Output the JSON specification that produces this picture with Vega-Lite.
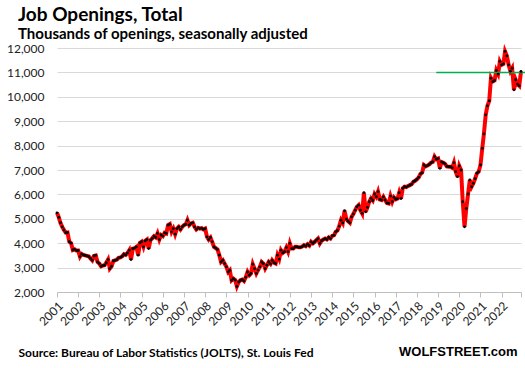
{
"$schema": "https://vega.github.io/schema/vega-lite/v6.json",
"width": 464, "height": 244,
"autosize": "none",
"padding": {"left": 57, "top": 48, "right": 4, "bottom": 76},
"background": "white",
"config": {"view": {"stroke": null}, "font": "Lato"},
"title": {"text": "Job Openings, Total", "subtitle": "Thousands of openings, seasonally adjusted", "anchor": "start", "frame": "group", "dx": -39, "offset": 0, "font": "Lato", "fontSize": 19, "fontWeight": "bold", "color": "#000", "subtitleFont": "Lato", "subtitleFontSize": 15, "subtitleFontWeight": "bold", "subtitleColor": "#000", "subtitlePadding": 2},
"datasets": {
"level": [{"d": "2018-12-01", "d2": "2023-02-15", "v": 11000}],
"jolts": [
{"d":"2001-01-01","v":5245},{"d":"2001-02-01","v":5060},{"d":"2001-03-01","v":4840},{"d":"2001-04-01","v":4670},{"d":"2001-05-01","v":4540},{"d":"2001-06-01","v":4430},{"d":"2001-07-01","v":4440},{"d":"2001-08-01","v":4060},{"d":"2001-09-01","v":4000},{"d":"2001-10-01","v":3720},{"d":"2001-11-01","v":3750},{"d":"2001-12-01","v":3700},
{"d":"2002-01-01","v":3700},{"d":"2002-02-01","v":3450},{"d":"2002-03-01","v":3560},{"d":"2002-04-01","v":3520},{"d":"2002-05-01","v":3500},{"d":"2002-06-01","v":3480},{"d":"2002-07-01","v":3460},{"d":"2002-08-01","v":3380},{"d":"2002-09-01","v":3300},{"d":"2002-10-01","v":3480},{"d":"2002-11-01","v":3500},{"d":"2002-12-01","v":3230},
{"d":"2003-01-01","v":3165},{"d":"2003-02-01","v":3055},{"d":"2003-03-01","v":3080},{"d":"2003-04-01","v":3095},{"d":"2003-05-01","v":3200},{"d":"2003-06-01","v":3330},{"d":"2003-07-01","v":2960},{"d":"2003-08-01","v":3055},{"d":"2003-09-01","v":3275},{"d":"2003-10-01","v":3300},{"d":"2003-11-01","v":3330},{"d":"2003-12-01","v":3400},
{"d":"2004-01-01","v":3420},{"d":"2004-02-01","v":3465},{"d":"2004-03-01","v":3550},{"d":"2004-04-01","v":3520},{"d":"2004-05-01","v":3600},{"d":"2004-06-01","v":3715},{"d":"2004-07-01","v":3330},{"d":"2004-08-01","v":3780},{"d":"2004-09-01","v":3800},{"d":"2004-10-01","v":3850},{"d":"2004-11-01","v":3510},{"d":"2004-12-01","v":4010},
{"d":"2005-01-01","v":4060},{"d":"2005-02-01","v":3850},{"d":"2005-03-01","v":4095},{"d":"2005-04-01","v":4150},{"d":"2005-05-01","v":3780},{"d":"2005-06-01","v":4125},{"d":"2005-07-01","v":4200},{"d":"2005-08-01","v":4290},{"d":"2005-09-01","v":4235},{"d":"2005-10-01","v":4400},{"d":"2005-11-01","v":4150},{"d":"2005-12-01","v":4335},
{"d":"2006-01-01","v":4290},{"d":"2006-02-01","v":4425},{"d":"2006-03-01","v":4400},{"d":"2006-04-01","v":4740},{"d":"2006-05-01","v":4780},{"d":"2006-06-01","v":4465},{"d":"2006-07-01","v":4600},{"d":"2006-08-01","v":4370},{"d":"2006-09-01","v":4600},{"d":"2006-10-01","v":4670},{"d":"2006-11-01","v":4565},{"d":"2006-12-01","v":4670},
{"d":"2007-01-01","v":4740},{"d":"2007-02-01","v":4780},{"d":"2007-03-01","v":4945},{"d":"2007-04-01","v":4740},{"d":"2007-05-01","v":4810},{"d":"2007-06-01","v":4835},{"d":"2007-07-01","v":4670},{"d":"2007-08-01","v":4565},{"d":"2007-09-01","v":4630},{"d":"2007-10-01","v":4600},{"d":"2007-11-01","v":4620},{"d":"2007-12-01","v":4565},
{"d":"2008-01-01","v":4600},{"d":"2008-02-01","v":4260},{"d":"2008-03-01","v":4150},{"d":"2008-04-01","v":4235},{"d":"2008-05-01","v":4055},{"d":"2008-06-01","v":3850},{"d":"2008-07-01","v":3800},{"d":"2008-08-01","v":3740},{"d":"2008-09-01","v":3510},{"d":"2008-10-01","v":3230},{"d":"2008-11-01","v":3300},{"d":"2008-12-01","v":3165},
{"d":"2009-01-01","v":3030},{"d":"2009-02-01","v":2820},{"d":"2009-03-01","v":2890},{"d":"2009-04-01","v":2480},{"d":"2009-05-01","v":2545},{"d":"2009-06-01","v":2490},{"d":"2009-07-01","v":2230},{"d":"2009-08-01","v":2410},{"d":"2009-09-01","v":2480},{"d":"2009-10-01","v":2510},{"d":"2009-11-01","v":2450},{"d":"2009-12-01","v":2600},
{"d":"2010-01-01","v":2820},{"d":"2010-02-01","v":2690},{"d":"2010-03-01","v":2760},{"d":"2010-04-01","v":3140},{"d":"2010-05-01","v":2960},{"d":"2010-06-01","v":2760},{"d":"2010-07-01","v":2900},{"d":"2010-08-01","v":3030},{"d":"2010-09-01","v":3230},{"d":"2010-10-01","v":3165},{"d":"2010-11-01","v":2960},{"d":"2010-12-01","v":3100},
{"d":"2011-01-01","v":3230},{"d":"2011-02-01","v":3150},{"d":"2011-03-01","v":3300},{"d":"2011-04-01","v":3200},{"d":"2011-05-01","v":3165},{"d":"2011-06-01","v":3510},{"d":"2011-07-01","v":3350},{"d":"2011-08-01","v":3715},{"d":"2011-09-01","v":3600},{"d":"2011-10-01","v":3650},{"d":"2011-11-01","v":3820},{"d":"2011-12-01","v":3650},
{"d":"2012-01-01","v":3990},{"d":"2012-02-01","v":3780},{"d":"2012-03-01","v":3780},{"d":"2012-04-01","v":3850},{"d":"2012-05-01","v":3850},{"d":"2012-06-01","v":3830},{"d":"2012-07-01","v":3830},{"d":"2012-08-01","v":3860},{"d":"2012-09-01","v":3920},{"d":"2012-10-01","v":3880},{"d":"2012-11-01","v":3960},{"d":"2012-12-01","v":3900},
{"d":"2013-01-01","v":4055},{"d":"2013-02-01","v":3990},{"d":"2013-03-01","v":4050},{"d":"2013-04-01","v":4125},{"d":"2013-05-01","v":4190},{"d":"2013-06-01","v":3990},{"d":"2013-07-01","v":4100},{"d":"2013-08-01","v":4150},{"d":"2013-09-01","v":4190},{"d":"2013-10-01","v":4150},{"d":"2013-11-01","v":4235},{"d":"2013-12-01","v":4190},
{"d":"2014-01-01","v":4300},{"d":"2014-02-01","v":4330},{"d":"2014-03-01","v":4465},{"d":"2014-04-01","v":4520},{"d":"2014-05-01","v":4700},{"d":"2014-06-01","v":4945},{"d":"2014-07-01","v":4830},{"d":"2014-08-01","v":5330},{"d":"2014-09-01","v":4990},{"d":"2014-10-01","v":4900},{"d":"2014-11-01","v":4835},{"d":"2014-12-01","v":5080},
{"d":"2015-01-01","v":5200},{"d":"2015-02-01","v":5355},{"d":"2015-03-01","v":5490},{"d":"2015-04-01","v":5560},{"d":"2015-05-01","v":5355},{"d":"2015-06-01","v":5220},{"d":"2015-07-01","v":6070},{"d":"2015-08-01","v":5285},{"d":"2015-09-01","v":5465},{"d":"2015-10-01","v":5700},{"d":"2015-11-01","v":5840},{"d":"2015-12-01","v":5750},
{"d":"2016-01-01","v":6015},{"d":"2016-02-01","v":5905},{"d":"2016-03-01","v":6110},{"d":"2016-04-01","v":5795},{"d":"2016-05-01","v":5770},{"d":"2016-06-01","v":5900},{"d":"2016-07-01","v":5770},{"d":"2016-08-01","v":5650},{"d":"2016-09-01","v":5630},{"d":"2016-10-01","v":5930},{"d":"2016-11-01","v":5700},{"d":"2016-12-01","v":5880},
{"d":"2017-01-01","v":5800},{"d":"2017-02-01","v":5830},{"d":"2017-03-01","v":6070},{"d":"2017-04-01","v":5830},{"d":"2017-05-01","v":6250},{"d":"2017-06-01","v":6315},{"d":"2017-07-01","v":6300},{"d":"2017-08-01","v":6340},{"d":"2017-09-01","v":6380},{"d":"2017-10-01","v":6420},{"d":"2017-11-01","v":6520},{"d":"2017-12-01","v":6560},
{"d":"2018-01-01","v":6620},{"d":"2018-02-01","v":6700},{"d":"2018-03-01","v":6835},{"d":"2018-04-01","v":6890},{"d":"2018-05-01","v":7205},{"d":"2018-06-01","v":7150},{"d":"2018-07-01","v":7180},{"d":"2018-08-01","v":7230},{"d":"2018-09-01","v":7300},{"d":"2018-10-01","v":7330},{"d":"2018-11-01","v":7550},{"d":"2018-12-01","v":7440},
{"d":"2019-01-01","v":7470},{"d":"2019-02-01","v":7070},{"d":"2019-03-01","v":7330},{"d":"2019-04-01","v":7300},{"d":"2019-05-01","v":7250},{"d":"2019-06-01","v":7150},{"d":"2019-07-01","v":7135},{"d":"2019-08-01","v":7135},{"d":"2019-09-01","v":7090},{"d":"2019-10-01","v":7300},{"d":"2019-11-01","v":6930},{"d":"2019-12-01","v":6725},
{"d":"2020-01-01","v":7165},{"d":"2020-02-01","v":7000},{"d":"2020-03-01","v":5700},{"d":"2020-04-01","v":4670},{"d":"2020-05-01","v":5425},{"d":"2020-06-01","v":6015},{"d":"2020-07-01","v":6590},{"d":"2020-08-01","v":6315},{"d":"2020-09-01","v":6455},{"d":"2020-10-01","v":6650},{"d":"2020-11-01","v":6865},{"d":"2020-12-01","v":6930},
{"d":"2021-01-01","v":7205},{"d":"2021-02-01","v":7890},{"d":"2021-03-01","v":8480},{"d":"2021-04-01","v":9260},{"d":"2021-05-01","v":9630},{"d":"2021-06-01","v":9835},{"d":"2021-07-01","v":10765},{"d":"2021-08-01","v":10625},{"d":"2021-09-01","v":10670},{"d":"2021-10-01","v":11080},{"d":"2021-11-01","v":10930},{"d":"2021-12-01","v":11450},
{"d":"2022-01-01","v":11310},{"d":"2022-02-01","v":11350},{"d":"2022-03-01","v":11860},{"d":"2022-04-01","v":11680},{"d":"2022-05-01","v":11310},{"d":"2022-06-01","v":11050},{"d":"2022-07-01","v":11175},{"d":"2022-08-01","v":10285},{"d":"2022-09-01","v":10700},{"d":"2022-10-01","v":10520},{"d":"2022-11-01","v":10450},{"d":"2022-12-01","v":11040}
]},
"encoding": {
  "x": {"field": "d", "type": "temporal",
   "scale": {"type": "utc", "nice": false, "domain": [{"year": 2001, "month": 1, "date": 1, "utc": true}, {"year": 2022, "month": 12, "date": 1, "utc": true}]},
   "axis": {"values": [
     {"year": 2001, "month": 1, "date": 1, "utc": true},{"year": 2002, "month": 1, "date": 1, "utc": true},{"year": 2003, "month": 1, "date": 1, "utc": true},{"year": 2004, "month": 1, "date": 1, "utc": true},{"year": 2005, "month": 1, "date": 1, "utc": true},{"year": 2006, "month": 1, "date": 1, "utc": true},{"year": 2007, "month": 1, "date": 1, "utc": true},{"year": 2008, "month": 1, "date": 1, "utc": true},{"year": 2009, "month": 1, "date": 1, "utc": true},{"year": 2010, "month": 1, "date": 1, "utc": true},{"year": 2011, "month": 1, "date": 1, "utc": true},{"year": 2012, "month": 1, "date": 1, "utc": true},{"year": 2013, "month": 1, "date": 1, "utc": true},{"year": 2014, "month": 1, "date": 1, "utc": true},{"year": 2015, "month": 1, "date": 1, "utc": true},{"year": 2016, "month": 1, "date": 1, "utc": true},{"year": 2017, "month": 1, "date": 1, "utc": true},{"year": 2018, "month": 1, "date": 1, "utc": true},{"year": 2019, "month": 1, "date": 1, "utc": true},{"year": 2020, "month": 1, "date": 1, "utc": true},{"year": 2021, "month": 1, "date": 1, "utc": true},{"year": 2022, "month": 1, "date": 1, "utc": true},{"year": 2022, "month": 12, "date": 1, "utc": true}],
    "labelExpr": "utcmonth(datum.value) == 0 ? utcFormat(datum.value, '%Y') : ''",
    "labelOverlap": false,
    "labelAngle": -45, "labelFont": "Lato", "labelFontSize": 12, "labelColor": "#222", "labelPadding": 3,
    "tickColor": "#bfbfbf", "tickSize": 5, "domainColor": "#bfbfbf", "grid": false,
    "title": "WOLFSTREET.com", "titleFont": "Liberation Sans", "titleFontSize": 13, "titleFontWeight": "bold", "titleColor": "#000",
    "titleX": 460, "titleY": 63, "titleAlign": "right", "titleBaseline": "alphabetic"}},
  "y": {"field": "v", "type": "quantitative",
   "scale": {"domain": [2000, 12000], "nice": false},
   "axis": {"values": [2000, 3000, 4000, 5000, 6000, 7000, 8000, 9000, 10000, 11000, 12000], "labelExpr": "format(datum.value, ',')",
    "labelOverlap": false,
    "grid": true, "gridColor": "#d9d9d9", "ticks": false, "domain": false,
    "labelFont": "Lato", "labelFontSize": 12, "labelColor": "#222", "labelPadding": 13,
    "title": "Source: Bureau of Labor Statistics (JOLTS), St. Louis Fed", "titleAngle": 0, "titleX": -39, "titleY": 308,
    "titleAlign": "left", "titleBaseline": "alphabetic", "titleFont": "Lato", "titleFontSize": 12, "titleFontWeight": "bold", "titleColor": "#000"}}
},
"layer": [
{"data": {"name": "jolts"},
 "mark": {"type": "line", "color": "#ff0000", "strokeWidth": 4}},
{"data": {"name": "level"},
 "mark": {"type": "rule", "color": "#00b050", "strokeWidth": 1.5},
 "encoding": {"x2": {"field": "d2"}}},
{"data": {"name": "jolts"},
 "mark": {"type": "circle", "color": "#000", "size": 8, "opacity": 1}}
]
}
